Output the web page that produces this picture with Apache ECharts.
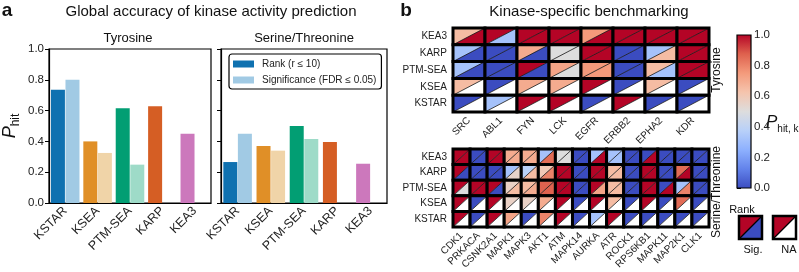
<!DOCTYPE html>
<html>
<head>
<meta charset="utf-8">
<script src="https://cdn.jsdelivr.net/npm/echarts@6.0.0/dist/echarts.min.js"></script>
<style>html,body{margin:0;padding:0;background:#fff}#main{width:799px;height:272px}</style>
</head>
<body>
<div id="main"></div>
<script>
const FONT = '"Liberation Sans", Arial, sans-serif';

// panel a
const methods = ['KSTAR', 'KSEA', 'PTM-SEA', 'KARP', 'KEA3'];
const tyrRankHit = [0.735, 0.40, 0.615, 0.628, 0.45];
const tyrSigHit = [0.80, 0.325, 0.249, null, null];
const serRankHit = [0.266, 0.37, 0.50, 0.396, 0.255];
const serSigHit = [0.45, 0.34, 0.416, null, null];
const methodColors = ['#0f71b0', '#e08f27', '#029e73', '#d55e24', '#cc78bc'];
const methodLight = ['#a1cae4', '#f0d4a8', '#9edbc8', '#eebf99', '#ebc9e4'];

// panel b
const heatMethods = ['KEA3', 'KARP', 'PTM-SEA', 'KSEA', 'KSTAR']; // top to bottom
const tyrKinases = ['SRC', 'ABL1', 'FYN', 'LCK', 'EGFR', 'ERBB2', 'EPHA2', 'KDR'];
const tyrRank = [
  [0.65, 1, 1, 1, 0.75, 1, 1, 1],
  [0.32, 0, 0.7, 0.5, 1, 0, 0.32, 1],
  [0.32, 0, 1, 0.72, 0.75, 0, 0.65, 1],
  [0.65, 0, 0.7, 0.7, 1, 0, 0.65, 0],
  [0, 0.32, 1, 1, 0, 1, 0, 0]
];
const tyrSig = [
  [1, 0.32, 1, 1, 1, 1, 1, 1],
  [0, 0, 0, 0.5, 1, 0, 0.65, 1],
  [0, 0, 0, 0.5, 0.75, 0, 0.32, 1],
  [null, null, null, null, null, null, null, null],
  [null, null, null, null, null, null, null, null]
];
const serKinases = ['CDK1', 'PRKACA', 'CSNK2A1', 'MAPK1', 'MAPK3', 'AKT1', 'ATM', 'MAPK14',
  'AURKA', 'ATR', 'ROCK1', 'RPS6KB1', 'MAPK11', 'MAP2K1', 'CLK1'];
const serRank = [
  [1, 0, 1, 0.7, 0.7, 0.32, 0.5, 0, 0.32, 0.32, 0, 0, 0, 0, 0],
  [1, 0, 0, 0.32, 0.38, 0.6, 1, 0, 1, 0.65, 0, 1, 0, 0.85, 0],
  [1, 1, 1, 0.56, 0.65, 0.87, 1, 0, 1, 0.65, 0, 1, 0, 0.32, 0],
  [1, 0, 1, 0.56, 0.56, 0.7, 1, 0, 1, 0.65, 0, 1, 0, 0.85, 0],
  [1, 0, 1, 0.72, 0, 0.8, 1, 0, 0.32, 1, 0, 0, 0, 0, 0]
];
const serSig = [
  [1, 0, 1, 0.7, 0.7, 0.85, 0.5, 0, 1, 0.32, 0, 1, 0, 0, 0],
  [0, 0, 0, 0.55, 0.65, 0.8, 1, 0, 1, 0.65, 0, 1, 0, 1, 0],
  [0.5, 1, 0, 0.65, 0.7, 0.87, 1, 0, 0.72, 0.65, 0, 1, 1, 0.8, 0],
  new Array(15).fill(null),
  new Array(15).fill(null)
];
const cbTicks = [0, 0.2, 0.4, 0.6, 0.8, 1.0];

// coolwarm
const cwStops = [[0, '#3b4cc0'], [0.125, '#6282ea'], [0.25, '#8db0fe'], [0.375, '#b8d0f9'],
  [0.5, '#dddddd'], [0.625, '#f5c4ad'], [0.75, '#f49a7b'], [0.875, '#de604d'], [1, '#b40426']];
function hex2rgb(h) { return [1, 3, 5].map(i => parseInt(h.substr(i, 2), 16)); }
function coolwarm(v) {
  v = Math.max(0, Math.min(1, v));
  for (let i = 1; i < cwStops.length; i++) {
    if (v <= cwStops[i][0]) {
      const a = cwStops[i - 1], b = cwStops[i];
      const t = (v - a[0]) / (b[0] - a[0]);
      const ca = hex2rgb(a[1]), cb = hex2rgb(b[1]);
      return 'rgb(' + ca.map((c, k) => Math.round(c + (cb[k] - c) * t)).join(',') + ')';
    }
  }
  return cwStops[cwStops.length - 1][1];
}

function cells(rank, sig) {
  const out = [];
  rank.forEach((row, r) => row.forEach((v, c) => {
    out.push([c, heatMethods.length - 1 - r, v, sig[r][c] == null ? -1 : sig[r][c]]);
  }));
  return out;
}

function renderCell(params, api) {
  const c = api.coord([api.value(0), api.value(1)]);
  const s = api.size([1, 1]);
  const x0 = c[0] - s[0] / 2, x1 = c[0] + s[0] / 2, y0 = c[1] - s[1] / 2, y1 = c[1] + s[1] / 2;
  const rank = api.value(2), sig = api.value(3);
  return {
    type: 'group',
    children: [
      { type: 'polygon', shape: { points: [[x0, y0], [x1, y0], [x0, y1]] }, style: { fill: coolwarm(rank) } },
      { type: 'polygon', shape: { points: [[x1, y0], [x1, y1], [x0, y1]] }, style: { fill: sig < 0 ? '#fff' : coolwarm(sig) } },
      { type: 'line', shape: { x1: x0, y1: y1, x2: x1, y2: y0 }, style: { stroke: '#111', lineWidth: 0.8 } },
      { type: 'rect', shape: { x: x0, y: y0, width: s[0], height: s[1] }, style: { fill: null, stroke: '#000', lineWidth: 3 } }
    ]
  };
}

function renderBar(params, api) {
  const p0 = api.coord([0, 0]), p1 = api.coord([1, 1]);
  const stops = cwStops.map(s => ({ offset: s[0], color: s[1] }));
  return {
    type: 'rect',
    shape: { x: p0[0], y: p1[1], width: p1[0] - p0[0], height: p0[1] - p1[1] },
    style: { fill: new echarts.graphic.LinearGradient(0, 1, 0, 0, stops), stroke: '#000', lineWidth: 1.2 }
  };
}

const txt = { color: '#222', fontFamily: FONT };
function barX(gi) {
  return {
    type: 'category', gridIndex: gi, data: methods,
    axisLine: { lineStyle: { color: '#000', width: 1.2 } },
    axisTick: { alignWithLabel: true, length: 4, lineStyle: { color: '#000' } },
    axisLabel: Object.assign({ rotate: 45, fontSize: 12.5, margin: 6, interval: 0 }, txt)
  };
}
function barY(gi, labels) {
  return {
    type: 'value', gridIndex: gi, min: 0, max: 1, interval: 0.2,
    splitLine: { show: false },
    axisLine: { show: true, lineStyle: { color: '#000', width: 1.2 } },
    axisTick: { show: true, length: 4, lineStyle: { color: '#000' } },
    axisLabel: Object.assign({ show: labels, fontSize: 11.5, margin: 5, formatter: v => v.toFixed(1) }, txt)
  };
}
function heatX(gi, kin) {
  return {
    type: 'category', gridIndex: gi, data: kin,
    axisLine: { show: false },
    axisTick: { alignWithLabel: true, length: 4, lineStyle: { color: '#000' } },
    axisLabel: Object.assign({ rotate: 45, fontSize: 10, margin: 7, interval: 0 }, txt)
  };
}
function heatY(gi) {
  return {
    type: 'category', gridIndex: gi, data: heatMethods.slice().reverse(),
    axisLine: { show: false },
    axisTick: { alignWithLabel: true, length: 4, lineStyle: { color: '#000' } },
    axisLabel: Object.assign({ fontSize: 10, margin: 6, interval: 0 }, txt)
  };
}

const RANK = 'Rank (r ≤ 10)', SIG = 'Significance (FDR ≤ 0.05)';
function barSeries(name, gi, vals, cols) {
  return {
    name: name, type: 'bar', xAxisIndex: gi, yAxisIndex: gi,
    barWidth: 14, barGap: '4%',
    itemStyle: { color: cols[0] },
    data: vals.map((v, i) => ({ value: v, itemStyle: { color: cols[i] } }))
  };
}

function label(text, x, y, size, extra) {
  return Object.assign({
    type: 'text', x: x, y: y,
    style: { text: text, font: size + 'px ' + FONT, fill: '#111', textAlign: 'center', textVerticalAlign: 'middle' }
  }, extra || {});
}

const option = {
  animation: false,
  textStyle: { fontFamily: FONT },
  grid: [
    { left: 44, top: 49, width: 167, height: 154, show: true, borderColor: '#000', borderWidth: 1.2 },
    { left: 221, top: 49, width: 166, height: 154, show: true, borderColor: '#000', borderWidth: 1.2 },
    { left: 453, top: 28, width: 256, height: 84 },
    { left: 453, top: 149, width: 256, height: 84 },
    { left: 737, top: 35, width: 14, height: 153 }
  ],
  xAxis: [barX(0), barX(1), heatX(2, tyrKinases), heatX(3, serKinases),
    { type: 'value', gridIndex: 4, min: 0, max: 1, show: false }],
  yAxis: [
    Object.assign(barY(0, true), {
      name: '{p|P}{h|hit}', nameLocation: 'middle', nameGap: 27,
      nameTextStyle: { rich: {
        p: { fontSize: 18, fontStyle: 'italic', fontFamily: FONT, color: '#111', verticalAlign: 'bottom', padding: [0, 0, 3, 0] },
        h: { fontSize: 12, fontFamily: FONT, color: '#111', verticalAlign: 'bottom' }
      } }
    }),
    barY(1, false), heatY(2), heatY(3),
    {
      type: 'value', gridIndex: 4, min: 0, max: 1, interval: 0.2, position: 'right',
      splitLine: { show: false }, axisLine: { show: false },
      axisTick: { show: true, length: 4, lineStyle: { color: '#000' } },
      axisLabel: Object.assign({ fontSize: 11.5, margin: 3, formatter: v => v.toFixed(1) }, txt)
    }
  ],
  legend: {
    left: 229, top: 54, orient: 'vertical',
    data: [RANK, SIG],
    icon: 'rect', itemWidth: 21, itemHeight: 7, itemGap: 6,
    padding: [5, 5, 4, 4],
    borderColor: '#000', borderWidth: 1.2, borderRadius: 3,
    textStyle: { fontSize: 10, color: '#222', fontFamily: FONT, padding: [0, 0, 0, 3] }
  },
  series: [
    barSeries(RANK, 0, tyrRankHit, methodColors),
    barSeries(SIG, 0, tyrSigHit, methodLight),
    barSeries(RANK, 1, serRankHit, methodColors),
    barSeries(SIG, 1, serSigHit, methodLight),
    { type: 'custom', xAxisIndex: 2, yAxisIndex: 2, renderItem: renderCell, encode: { x: 0, y: 1 }, data: cells(tyrRank, tyrSig) },
    { type: 'custom', xAxisIndex: 3, yAxisIndex: 3, renderItem: renderCell, encode: { x: 0, y: 1 }, data: cells(serRank, serSig) },
    { type: 'custom', xAxisIndex: 4, yAxisIndex: 4, renderItem: renderBar, data: [[cbTicks[0], cbTicks[cbTicks.length - 1]]] }
  ],
  graphic: [
    label('a', 7, 11, 'bold 19'),
    label('Global accuracy of kinase activity prediction', 211, 12, 15),
    label('Tyrosine', 128, 38, 13),
    label('Serine/Threonine', 304, 38, 13),
    label('b', 406, 11, 'bold 19'),
    label('Kinase-specific benchmarking', 589, 12, 15),
    label('Tyrosine', 717, 70, 12, { rotation: Math.PI / 2 }),
    label('Serine/Threonine', 717, 192, 12, { rotation: Math.PI / 2 }),
    {
      type: 'text', x: 766, y: 124,
      style: {
        text: '{p|P}{h|hit, k}', fill: '#111', textAlign: 'left', textVerticalAlign: 'middle',
        rich: {
          p: { fontSize: 17, fontStyle: 'italic', fontFamily: FONT, verticalAlign: 'bottom', padding: [0, 0, 3, 0] },
          h: { fontSize: 10, fontFamily: FONT, verticalAlign: 'bottom' }
        }
      }
    },
    label('Rank', 742, 210, 11),
    label('Sig.', 753, 250, 11),
    label('NA', 789, 250, 11),
    { type: 'polygon', shape: { points: [[739, 216], [762, 216], [739, 239]] }, style: { fill: coolwarm(1) } },
    { type: 'polygon', shape: { points: [[762, 216], [762, 239], [739, 239]] }, style: { fill: coolwarm(0) } },
    { type: 'line', shape: { x1: 739, y1: 239, x2: 762, y2: 216 }, style: { stroke: '#000', lineWidth: 1.2 } },
    { type: 'rect', shape: { x: 739, y: 216, width: 23, height: 23 }, style: { fill: null, stroke: '#000', lineWidth: 2.5 } },
    { type: 'polygon', shape: { points: [[773, 216], [796, 216], [773, 239]] }, style: { fill: coolwarm(1) } },
    { type: 'polygon', shape: { points: [[796, 216], [796, 239], [773, 239]] }, style: { fill: '#fff' } },
    { type: 'line', shape: { x1: 773, y1: 239, x2: 796, y2: 216 }, style: { stroke: '#000', lineWidth: 1.2 } },
    { type: 'rect', shape: { x: 773, y: 216, width: 23, height: 23 }, style: { fill: null, stroke: '#000', lineWidth: 2.5 } }
  ]
};

const chart = echarts.init(document.getElementById('main'), null, { renderer: 'canvas' });
chart.setOption(option);
window.onresize = function() { chart.resize(); };
</script>
</body>
</html>
